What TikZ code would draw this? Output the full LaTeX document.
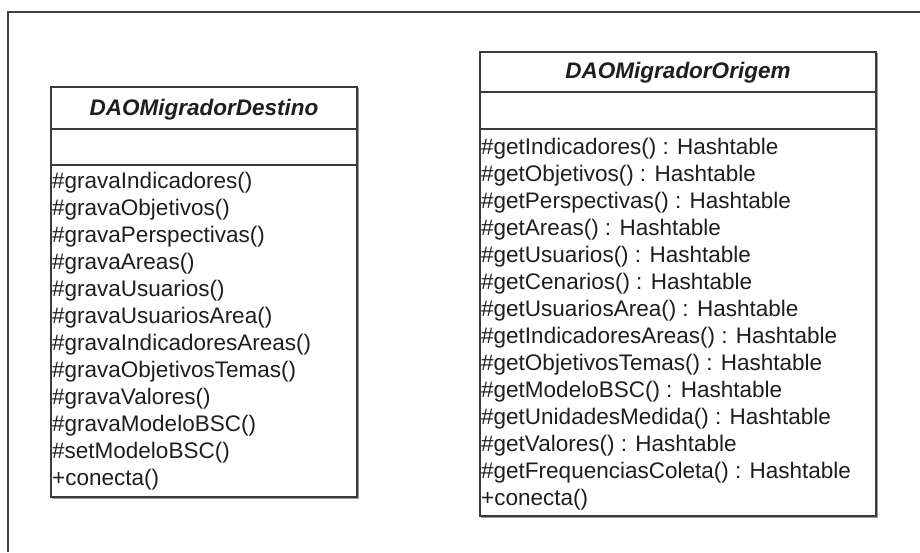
\documentclass[tikz,border=0pt]{standalone}
\usepackage{fontspec}
\setmainfont{Liberation Sans}
\definecolor{linec}{HTML}{3A3A3A}
\definecolor{shadowc}{HTML}{9A9A9A}
\definecolor{textc}{HTML}{1E1E1E}
\tikzset{
  umlbox/.style={draw=linec, line width=1.4pt, fill=white},
  umlshadow/.style={draw=shadowc, line width=1.4pt},
  divider/.style={draw=linec, line width=1.4pt},
  frameline/.style={draw=black!75, line width=1.2pt},
  member/.style={anchor=base west, inner sep=0pt, text=textc, font=\fontsize{22.5}{27}\selectfont},
  classtitle/.style={anchor=base, inner sep=0pt, text=textc, font=\fontsize{22.5}{27}\selectfont\bfseries\itshape},
}
\begin{document}
\begin{tikzpicture}[x=1pt,y=-1pt]
\useasboundingbox (0,0) rectangle (920,552);
% outer frame (only top and left edges visible)
\draw[frameline] (920,12) -- (8,12) -- (8,552);

% ---- DAOMigradorDestino ----
\draw[umlshadow] (52.5,88.5) rectangle (358.5,498.5);
\draw[umlbox] (51,87) rectangle (357,497);
\coordinate (dA1) at (51,129);  \coordinate (dA2) at (357,129);
\coordinate (dB1) at (51,165);  \coordinate (dB2) at (357,165);
\draw[divider] (dA1) -- (dA2);
\draw[divider] (dB1) -- (dB2);
\node[classtitle] (dtitle) at (204,115) {DAOMigradorDestino};
\foreach \t [count=\i] in {\#gravaIndicadores(),\#gravaObjetivos(),\#gravaPerspectivas(),\#gravaAreas(),\#gravaUsuarios(),\#gravaUsuariosArea(),\#gravaIndicadoresAreas(),\#gravaObjetivosTemas(),\#gravaValores(),\#gravaModeloBSC(),\#setModeloBSC(),+conecta()}
  \node[member] (d\i) at (52,{188+27*(\i-1)}) {\t};

% ---- DAOMigradorOrigem ----
\draw[umlshadow] (481.5,53.5) rectangle (877.5,517.5);
\draw[umlbox] (480,52) rectangle (876,516);
\coordinate (oA1) at (480,92);  \coordinate (oA2) at (876,92);
\coordinate (oB1) at (480,129); \coordinate (oB2) at (876,129);
\draw[divider] (oA1) -- (oA2);
\draw[divider] (oB1) -- (oB2);
\node[classtitle] (otitle) at (678,78) {DAOMigradorOrigem};
\foreach \t [count=\i] in {\#getIndicadores() : Hashtable,\#getObjetivos() : Hashtable,\#getPerspectivas() : Hashtable,\#getAreas() : Hashtable,\#getUsuarios() : Hashtable,\#getCenarios() : Hashtable,\#getUsuariosArea() : Hashtable,\#getIndicadoresAreas() : Hashtable,\#getObjetivosTemas() : Hashtable,\#getModeloBSC() : Hashtable,\#getUnidadesMedida() : Hashtable,\#getValores() : Hashtable,\#getFrequenciasColeta() : Hashtable,+conecta()}
  \node[member] (o\i) at (481,{154+27*(\i-1)}) {\t};
\end{tikzpicture}
\end{document}
